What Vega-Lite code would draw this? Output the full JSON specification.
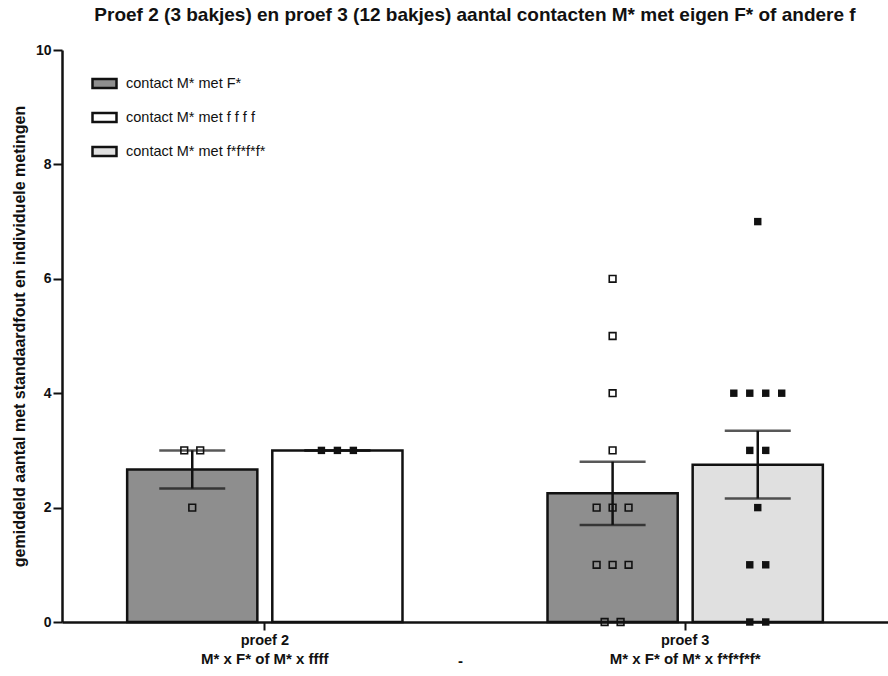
{
  "$schema": "https://vega.github.io/schema/vega-lite/v6.json",
  "width": 826,
  "height": 572,
  "autosize": {"type": "none"},
  "padding": {"left": 62, "top": 50, "right": 0, "bottom": 54},
  "background": "white",
  "config": {
    "view": {"stroke": null},
    "font": "Liberation Sans",
    "axis": {"domainColor": "#111", "domainWidth": 2.5, "tickColor": "#111", "tickWidth": 2, "grid": false, "labelFont": "Liberation Sans", "labelFontWeight": "bold", "labelColor": "#111", "titleFont": "Liberation Sans", "titleFontWeight": "bold", "titleColor": "#111"}
  },
  "title": {"text": "Proef 2 (3 bakjes) en proef 3 (12 bakjes) aantal contacten M* met eigen F* of andere f", "font": "Liberation Sans", "fontSize": 19, "fontWeight": "bold", "color": "#111", "anchor": "middle", "dx": 0, "offset": 18},
  "data": {
    "values": [
      {"proef": "proef 2", "partner": "eigen", "reeks": "contact M* met F*", "aantal": 3},
      {"proef": "proef 2", "partner": "eigen", "reeks": "contact M* met F*", "aantal": 3},
      {"proef": "proef 2", "partner": "eigen", "reeks": "contact M* met F*", "aantal": 2},
      {"proef": "proef 2", "partner": "andere", "reeks": "contact M* met  f f f f", "aantal": 3},
      {"proef": "proef 2", "partner": "andere", "reeks": "contact M* met  f f f f", "aantal": 3},
      {"proef": "proef 2", "partner": "andere", "reeks": "contact M* met  f f f f", "aantal": 3},
      {"proef": "proef 3", "partner": "eigen", "reeks": "contact M* met F*", "aantal": 6},
      {"proef": "proef 3", "partner": "eigen", "reeks": "contact M* met F*", "aantal": 5},
      {"proef": "proef 3", "partner": "eigen", "reeks": "contact M* met F*", "aantal": 4},
      {"proef": "proef 3", "partner": "eigen", "reeks": "contact M* met F*", "aantal": 3},
      {"proef": "proef 3", "partner": "eigen", "reeks": "contact M* met F*", "aantal": 2},
      {"proef": "proef 3", "partner": "eigen", "reeks": "contact M* met F*", "aantal": 2},
      {"proef": "proef 3", "partner": "eigen", "reeks": "contact M* met F*", "aantal": 2},
      {"proef": "proef 3", "partner": "eigen", "reeks": "contact M* met F*", "aantal": 1},
      {"proef": "proef 3", "partner": "eigen", "reeks": "contact M* met F*", "aantal": 1},
      {"proef": "proef 3", "partner": "eigen", "reeks": "contact M* met F*", "aantal": 1},
      {"proef": "proef 3", "partner": "eigen", "reeks": "contact M* met F*", "aantal": 0},
      {"proef": "proef 3", "partner": "eigen", "reeks": "contact M* met F*", "aantal": 0},
      {"proef": "proef 3", "partner": "andere", "reeks": "contact M* met  f*f*f*f*", "aantal": 7},
      {"proef": "proef 3", "partner": "andere", "reeks": "contact M* met  f*f*f*f*", "aantal": 4},
      {"proef": "proef 3", "partner": "andere", "reeks": "contact M* met  f*f*f*f*", "aantal": 4},
      {"proef": "proef 3", "partner": "andere", "reeks": "contact M* met  f*f*f*f*", "aantal": 4},
      {"proef": "proef 3", "partner": "andere", "reeks": "contact M* met  f*f*f*f*", "aantal": 4},
      {"proef": "proef 3", "partner": "andere", "reeks": "contact M* met  f*f*f*f*", "aantal": 3},
      {"proef": "proef 3", "partner": "andere", "reeks": "contact M* met  f*f*f*f*", "aantal": 3},
      {"proef": "proef 3", "partner": "andere", "reeks": "contact M* met  f*f*f*f*", "aantal": 2},
      {"proef": "proef 3", "partner": "andere", "reeks": "contact M* met  f*f*f*f*", "aantal": 1},
      {"proef": "proef 3", "partner": "andere", "reeks": "contact M* met  f*f*f*f*", "aantal": 1},
      {"proef": "proef 3", "partner": "andere", "reeks": "contact M* met  f*f*f*f*", "aantal": 0},
      {"proef": "proef 3", "partner": "andere", "reeks": "contact M* met  f*f*f*f*", "aantal": 0}
    ]
  },
  "encoding": {
    "x": {"field": "proef", "type": "nominal", "scale": {"domain": ["proef 2", "proef 3"], "paddingInner": 0.345, "paddingOuter": 0.155}}
  },
  "resolve": {"axis": {"x": "independent"}, "scale": {"xOffset": "independent"}},
  "layer": [
    {
      "mark": {"type": "bar", "stroke": "#111", "strokeWidth": 2.5},
      "encoding": {
        "x": {"field": "proef", "type": "nominal", "axis": {"orient": "bottom", "title": null, "labelAngle": 0, "labelFontSize": 14.5, "tickSize": 8, "labelPadding": 3}},
        "xOffset": {"field": "partner", "type": "nominal", "scale": {"domain": ["eigen", "andere"], "paddingInner": 0.103, "paddingOuter": 0}},
        "y": {"aggregate": "mean", "field": "aantal", "type": "quantitative", "scale": {"domain": [0, 10], "nice": false}, "axis": {"title": "gemiddeld aantal met standaardfout en individuele metingen", "titleFontSize": 16, "values": [0, 2, 4, 6, 8, 10], "format": "d", "labelFontSize": 14, "tickSize": 9, "labelPadding": 2, "titlePadding": 8}},
        "color": {"field": "reeks", "type": "nominal", "scale": {"domain": ["contact M* met F*", "contact M* met  f f f f", "contact M* met  f*f*f*f*"], "range": ["#8e8e8e", "#ffffff", "#e0e0e0"]},
          "legend": {"title": null, "orient": "none", "legendX": 31, "legendY": 22, "symbolType": "M-1.2,-0.45H1.2V0.45H-1.2Z", "symbolSize": 400, "symbolStrokeColor": "#111", "symbolStrokeWidth": 2.5, "labelFont": "Liberation Sans", "labelFontSize": 14.5, "labelColor": "#111", "rowPadding": 13, "labelOffset": 10}}
      }
    },
    {
      "mark": {"type": "errorbar", "extent": "stderr", "ticks": {"size": 66, "thickness": 2.5, "color": "#111"}, "rule": {"strokeWidth": 2.5, "color": "#111"}},
      "encoding": {
        "x": {"field": "proef", "type": "nominal", "axis": null},
        "xOffset": {"field": "partner", "type": "nominal", "scale": {"domain": ["eigen", "andere"], "paddingInner": 0.103, "paddingOuter": 0}},
        "y": {"field": "aantal", "type": "quantitative", "title": "gemiddeld aantal met standaardfout en individuele metingen"}
      }
    },
    {
      "transform": [
        {"window": [{"op": "row_number", "as": "idx"}], "groupby": ["proef", "partner", "aantal"]},
        {"joinaggregate": [{"op": "count", "as": "n"}], "groupby": ["proef", "partner", "aantal"]},
        {"calculate": "(datum.partner == 'eigen' ? 0.2364 : 0.7636) + (datum.idx - (datum.n + 1) / 2) * 0.058", "as": "plek"},
        {"filter": "datum.partner == 'eigen'"}
      ],
      "mark": {"type": "point", "shape": "square", "filled": false, "stroke": "#111", "strokeWidth": 1.6, "size": 45, "opacity": 1},
      "encoding": {
        "x": {"field": "proef", "type": "nominal", "axis": {"orient": "bottom", "title": "-", "titleFontSize": 15, "titleX": 398, "titleY": 38, "titleBaseline": "middle", "domain": false, "ticks": false, "labelAngle": 0, "labelFontSize": 15, "labelPadding": 29, "labelExpr": "datum.value == 'proef 2' ? 'M* x F* of M* x ffff' : 'M* x F* of M* x  f*f*f*f*'"}},
        "xOffset": {"field": "plek", "type": "quantitative", "scale": {"domain": [0, 1], "nice": false, "zero": false}},
        "y": {"field": "aantal", "type": "quantitative", "title": "gemiddeld aantal met standaardfout en individuele metingen"}
      }
    },
    {
      "transform": [
        {"window": [{"op": "row_number", "as": "idx"}], "groupby": ["proef", "partner", "aantal"]},
        {"joinaggregate": [{"op": "count", "as": "n"}], "groupby": ["proef", "partner", "aantal"]},
        {"calculate": "(datum.partner == 'eigen' ? 0.2364 : 0.7636) + (datum.idx - (datum.n + 1) / 2) * 0.058", "as": "plek"},
        {"filter": "datum.partner == 'andere'"}
      ],
      "mark": {"type": "point", "shape": "square", "filled": true, "fill": "#111", "size": 55, "opacity": 1},
      "encoding": {
        "x": {"field": "proef", "type": "nominal", "axis": null},
        "xOffset": {"field": "plek", "type": "quantitative", "scale": {"domain": [0, 1], "nice": false, "zero": false}},
        "y": {"field": "aantal", "type": "quantitative", "title": "gemiddeld aantal met standaardfout en individuele metingen"}
      }
    }
  ]
}
